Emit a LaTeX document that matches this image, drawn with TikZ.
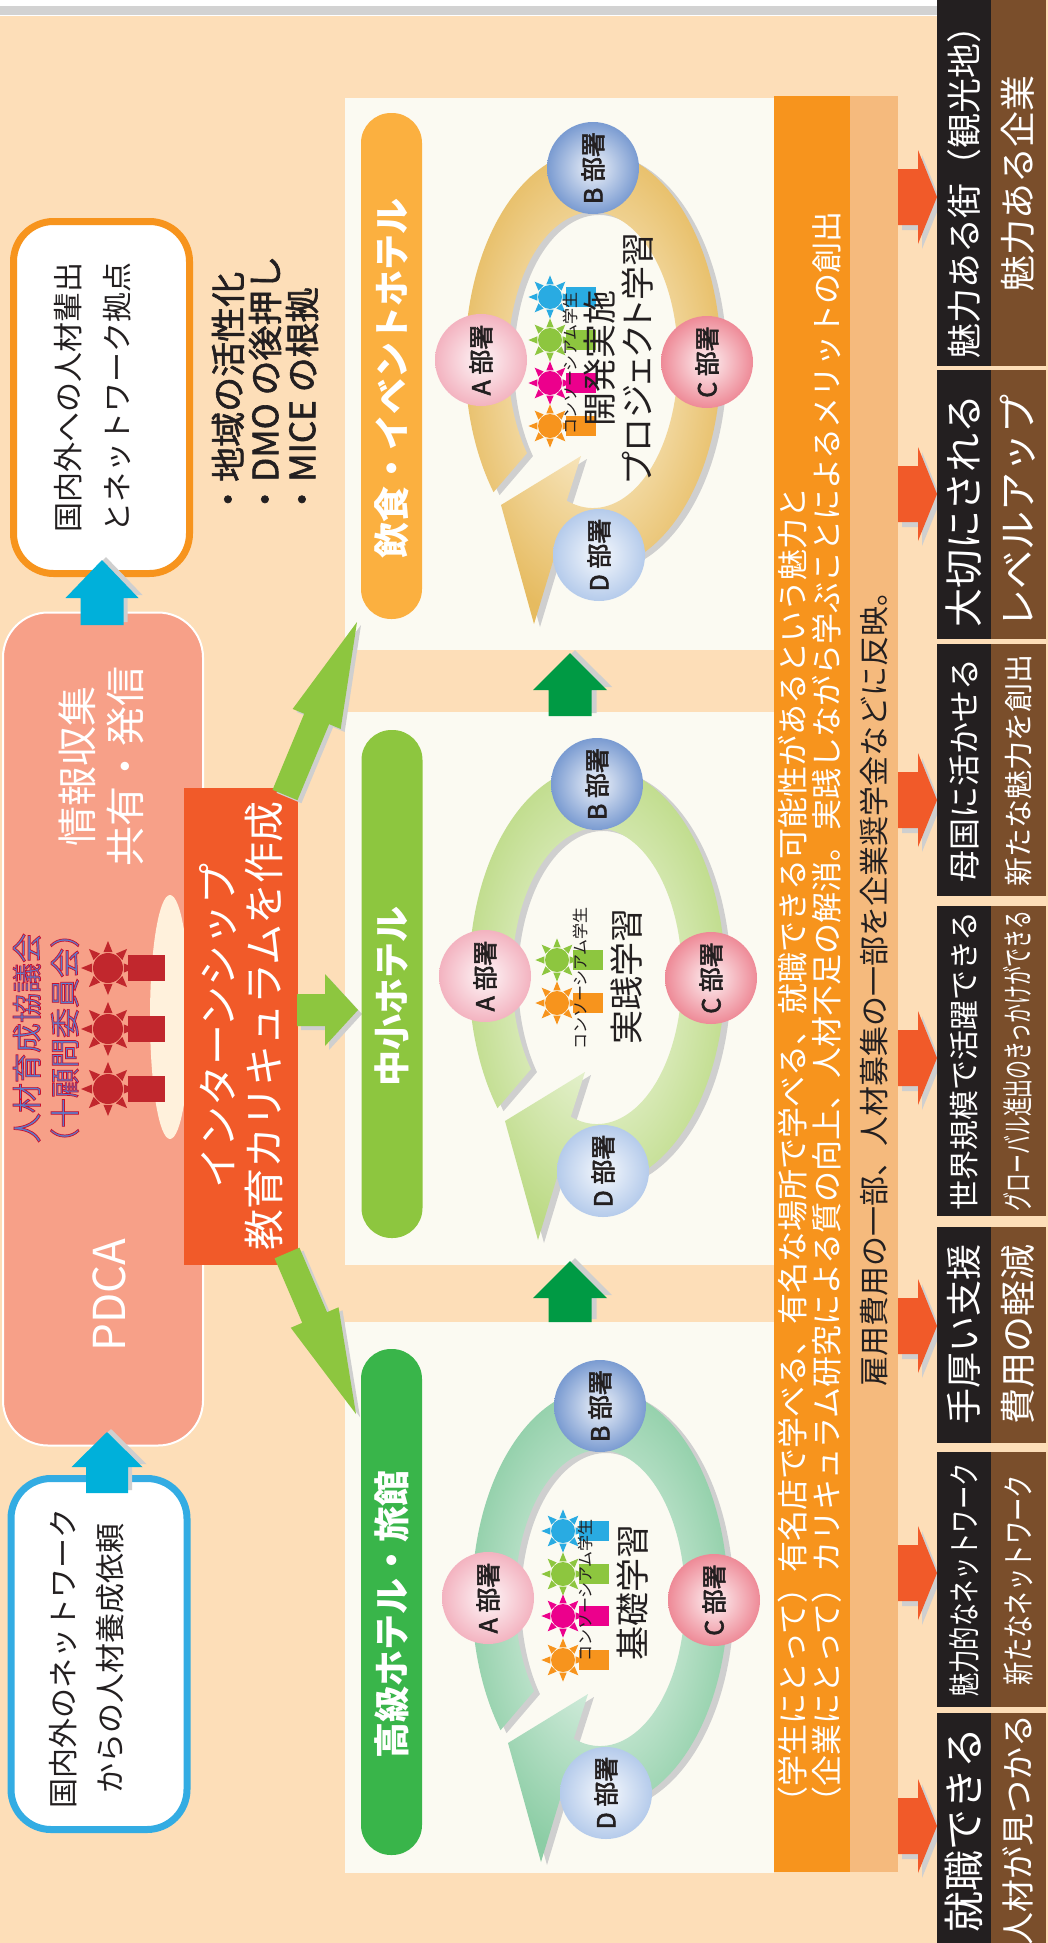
\documentclass[tikz,border=0pt]{standalone}
\usepackage{fontspec}
\setmainfont{Noto Sans CJK JP}
\newfontfamily\kana[RawFeature=+palt]{Noto Sans CJK JP}
\usepackage{graphicx}
\usetikzlibrary{calc}

\definecolor{bgpeach}{HTML}{FDDEB8}
\definecolor{topgray}{HTML}{D2D2D2}
\definecolor{panelcream}{HTML}{FBFAF2}
\definecolor{salmon}{HTML}{F7A088}
\definecolor{interred}{HTML}{F15A29}
\definecolor{outorange}{HTML}{F7941D}
\definecolor{inblue}{HTML}{33ACE3}
\definecolor{arrblue}{HTML}{00B0DA}
\definecolor{lightgreen}{HTML}{8DC63F}
\definecolor{darkgreen}{HTML}{009A44}
\definecolor{barorange}{HTML}{FBB040}
\definecolor{bargreen}{HTML}{39B54A}
\definecolor{colorange}{HTML}{F7941D}
\definecolor{collight}{HTML}{F5BA7D}
\definecolor{boxblack}{HTML}{231F20}
\definecolor{boxbrown}{HTML}{7A4E2B}
\definecolor{shadowgray}{HTML}{CFCFCF}
\definecolor{memberred}{HTML}{C1272D}
\definecolor{ovalcream}{HTML}{FFF1DC}
\definecolor{inktext}{HTML}{231F20}
\definecolor{council}{HTML}{5C7CCB}
\definecolor{arrred}{HTML}{F15A29}
\definecolor{studorange}{HTML}{F7941D}
\definecolor{studmagenta}{HTML}{EC008C}
\definecolor{studgreen}{HTML}{8DC63F}
\definecolor{studcyan}{HTML}{29ABE2}
\definecolor{ring1}{HTML}{E6BB60}
\definecolor{ring1l}{HTML}{FFF8E6}
\definecolor{ring2}{HTML}{BCDA85}
\definecolor{ring2l}{HTML}{F7FBEE}
\definecolor{ring3}{HTML}{8CCDA5}
\definecolor{ring3l}{HTML}{F0F9F3}
\definecolor{deptA}{HTML}{F3B3C0}
\definecolor{deptB}{HTML}{7A9BD1}
\definecolor{deptC}{HTML}{EE8A97}
\definecolor{deptD}{HTML}{B5CBEB}

\newcommand{\fsz}[1]{\fontsize{#1}{#1}\selectfont}
\newcommand{\outlined}[1]{\special{pdf:literal direct 2 Tr 0.7 w 0.78 0.06 0.18 RG}#1\special{pdf:literal direct 0 Tr}}
\newcommand{\heavy}[1]{\special{pdf:literal direct 2 Tr 0.6 w}#1\special{pdf:literal direct 0 Tr}}

% block arrow: fill, tail, tip, half shaft, half head, head length, shadow shift
\newcommand{\blockarrow}[7]{%
  \coordinate (ba-t) at #2;
  \coordinate (ba-h) at #3;
  \coordinate (ba-b) at ($(ba-h)!#6!(ba-t)$);
  \coordinate (ba-1) at ($(ba-t)!#4!90:(ba-h)$);
  \coordinate (ba-2) at ($(ba-b)!#4!-90:(ba-t)$);
  \coordinate (ba-3) at ($(ba-b)!#5!-90:(ba-t)$);
  \coordinate (ba-4) at ($(ba-b)!#5!90:(ba-t)$);
  \coordinate (ba-5) at ($(ba-b)!#4!90:(ba-t)$);
  \coordinate (ba-6) at ($(ba-t)!#4!-90:(ba-h)$);
  \fill[shadowgray] ([shift={#7}]ba-1) -- ([shift={#7}]ba-2) -- ([shift={#7}]ba-3) -- ([shift={#7}]ba-h)
    -- ([shift={#7}]ba-4) -- ([shift={#7}]ba-5) -- ([shift={#7}]ba-6) -- cycle;
  \fill[#1] (ba-1) -- (ba-2) -- (ba-3) -- (ba-h) -- (ba-4) -- (ba-5) -- (ba-6) -- cycle;
}

% person: colour, x, y, head radius
\newcommand{\person}[4]{%
  \begin{scope}[shift={(#2,-#3)}]
    \fill[#1] (0,0) circle (#4pt);
    \foreach \a in {0,45,...,315}
      \fill[#1] (\a:1.8*#4) -- (\a+16:1.1*#4) -- (\a-16:1.1*#4) -- cycle;
    \fill[#1] (1.3*#4,-0.85*#4) rectangle (3.8*#4,0.85*#4);
  \end{scope}}

\def\ringpath{(-141:128 and 210) arc[start angle=-141, end angle=-468, x radius=128, y radius=210]
  -- (-59,-264) -- (-92,-145) -- (-12,-96) -- (-468:85 and 148)
  arc[start angle=-468, end angle=-141, x radius=85, y radius=148] -- cycle}

\begin{document}
\begin{tikzpicture}[x=1pt,y=1pt]
  \tikzstyle{vtext}=[rotate=90, inner sep=0pt, align=center, text=inktext]
  \tikzstyle{wtext}=[vtext, text=white]
  \tikzstyle{dept}=[circle, minimum size=92pt, inner sep=0pt, rotate=90, text=inktext, font=\fsz{25}]
  \tikzstyle{hotelbar}=[rectangle, rounded corners=30pt, minimum height=61pt, inner sep=0pt, rotate=90]
  \tikzstyle{roundbox}=[rectangle, rounded corners=40pt, fill=white, line width=7pt, minimum height=176pt, rotate=90]

  \useasboundingbox (0,0) rectangle (1048,-1943);
  \fill[bgpeach] (0,0) rectangle (1048,-1943);
  \fill[white] (0,0) rectangle (937,-16);
  \fill[topgray] (0,-6) rectangle (937,-15);

  \foreach \ya/\yb in {98/650, 712/1265, 1322/1873}
    \fill[panelcream] (345,-\ya) rectangle (774,-\yb);
  \fill[colorange] (774,-96) rectangle (850,-1872);
  \fill[collight] (850,-96) rectangle (898,-1872);

  \node[draw=white, line width=2pt, fill=salmon, rounded corners=45pt, minimum width=833pt, minimum height=200pt, rotate=90] (pdca) at (103,-1029) {};
  \fill[ovalcream] (170,-1017) ellipse (20 and 122);
  \foreach \y in {968,1029,1089}
    {\person{memberred}{108}{\y}{15}}
  \node[wtext, font=\fontsize{40}{48}\selectfont] (info) at (101,-766) {情報収集\\共有・発信};
  \node[wtext, font=\fsz{44}] (cycle) at (109,-1295) {PDCA};
  \node[vtext, text=council, font=\fontsize{30}{38}\selectfont] (council) at (46,-1038) {\outlined{人材育成協議会}\\\outlined{（十顧問委員会）}};

  \node[roundbox, draw=outorange, minimum width=352pt] (out) at (101.5,-397.5) {};
  \node[vtext, font=\fontsize{30}{49}\selectfont] (out-t) at (92.5,-397) {国内外への人材輩出\\とネットワーク拠点};
  \node[vtext, align=left, anchor=west, font=\fontsize{35}{37}\selectfont] (aims) at (265,-517) {\heavy{・地域の活性化}\\\heavy{・DMO の後押し}\\\heavy{・MICE の根拠}};

  \node[roundbox, draw=inblue, minimum width=351pt] (req) at (99,-1654) {};
  \node[vtext, font=\fontsize{30}{47}\selectfont] (req-t) at (86.5,-1658) {国内外のネットワーク\\からの人材養成依頼};

  \node[fill=interred, minimum width=477pt, minimum height=114pt, rotate=90, inner sep=0pt, align=center, text=white, font=\fontsize{41}{46}\selectfont] (intern) at (241,-1026) {インターンシップ\\教育カリキュラムを作成};

  \blockarrow{arrblue}{(102,-625)}{(102,-560)}{21.5pt}{36.5pt}{38pt}{(4,3)}
  \blockarrow{arrblue}{(107,-1493)}{(107,-1432)}{21pt}{35.5pt}{35pt}{(4,3)}
  \blockarrow{lightgreen}{(285,-795)}{(357,-622)}{13.5pt}{26pt}{105pt}{(4,-3)}
  \blockarrow{lightgreen}{(297,-1010)}{(358,-1010)}{16pt}{36pt}{33pt}{(4,-4)}
  \blockarrow{lightgreen}{(287,-1253)}{(356,-1414)}{13.5pt}{26pt}{105pt}{(4,-3)}
  \blockarrow{darkgreen}{(570,-716)}{(570,-653)}{21.5pt}{37pt}{37pt}{(5,3)}
  \blockarrow{darkgreen}{(570,-1322)}{(570,-1261)}{21.5pt}{37pt}{37pt}{(5,3)}

  \foreach \p/\cx/\cy in {1/593/360, 2/597/976, 3/600/1598} {
    \begin{scope}[shift={(\cx,-\cy)}]
      \fill[shadowgray, shift={(6,-3)}] \ringpath;
      \shade[inner color=ring\p l, outer color=ring\p] \ringpath;
    \end{scope}
    \foreach \dep/\dx/\dy in {A/-112/0, B/0/-192, C/114/2, D/6/195}
      \node[dept, inner color=dept\dep!12!white, outer color=dept\dep] (p\p-\dep) at ({\cx+(\dx)},{-\cy-(\dy)}) {\heavy{\dep\ 部署}};
  }

  \foreach \col/\y in {studorange/426, studmagenta/383, studgreen/340, studcyan/297}
    {\person{\col}{550}{\y}{12}}
  \foreach \col/\y in {studgreen/960, studorange/1003}
    {\person{\col}{557}{\y}{12}}
  \foreach \col/\y in {studcyan/1531, studgreen/1574, studmagenta/1616, studorange/1660}
    {\person{\col}{563}{\y}{12}}
  \node[vtext, anchor=west, font=\fsz{16}] (p1-s) at (570,-435) {コンソーシアム学生};
  \node[vtext, anchor=west, font=\fsz{16}] (p2-s) at (580,-1050) {コンソーシアム学生};
  \node[vtext, anchor=west, font=\fsz{16}] (p3-s) at (585,-1662) {コンソーシアム学生};
  \node[vtext, font=\kana\fontsize{34}{38}\selectfont] (p1-t) at (619,-358) {開発実施\\プロジェクト学習};
  \node[vtext, font=\fsz{34}] (p2-t) at (627,-976) {実践学習};
  \node[vtext, font=\fsz{34}] (p3-t) at (633,-1592) {基礎学習};

  \node[hotelbar, fill=barorange, minimum width=506pt] (p1-bar) at (391.5,-366) {};
  \node[hotelbar, fill=lightgreen, minimum width=508pt] (p2-bar) at (392,-984) {};
  \node[hotelbar, fill=bargreen, minimum width=506pt] (p3-bar) at (391.5,-1602) {};
  \node[wtext, font=\bfseries\fsz{36}] (p1-l) at (392,-378) {飲食・イベントホテル};
  \node[wtext, font=\bfseries\fsz{36}] (p2-l) at (392,-996) {中小ホテル};
  \node[wtext, font=\bfseries\fsz{36}] (p3-l) at (392,-1614) {高級ホテル・旅館};

  \node[wtext, align=left, anchor=west, font=\fontsize{31}{34}\selectfont] (merit) at (810,-1818)
    {（学生にとって）有名店で学べる、有名な場所で学べる、就職できる可能性があるという魅力と\\（企業にとって）カリキュラム研究による質の向上、人材不足の解消。実践しながら学ぶことによるメリットの創出};
  \node[vtext, anchor=west, font=\fsz{30}] (fund) at (874,-1387) {雇用費用の一部、人材募集の一部を企業奨学金などに反映。};

  \foreach \y in {197,494,800,1058,1326,1573,1826}
    {\blockarrow{arrred}{(898,-\y)}{(937,-\y)}{28pt}{47pt}{19pt}{(4,-5)}}

  \foreach \ya/\yb/\yc/\ta/\tb in {
      0/366/183/{\fsz{35}魅力ある街（観光地）}/{\fsz{36}魅力ある企業},
      370/639/511/{\fsz{39}大切にされる}/{\fsz{39}レベルアップ},
      644/896/770/{\fsz{32}母国に活かせる}/{\fsz{29}新たな魅力を創出},
      906/1216/1061/{\fsz{30}世界規模で活躍できる}/{\fsz{31}\scalebox{0.61}[1]{グローバル進出のきっかけができる}},
      1227/1443/1334/{\fsz{36}手厚い支援}/{\fsz{36}費用の軽減},
      1452/1707/1580/{\fsz{32}\scalebox{0.73}[1]{魅力的なネットワーク}}/{\fsz{32}\scalebox{0.73}[1]{新たなネットワーク}},
      1713/1943/1830/{\fsz{41}就職できる}/{\fsz{33}人材が見つかる}} {
    \fill[boxblack] (937,-\ya) rectangle (991,-\yb);
    \fill[boxbrown] (991,-\ya) rectangle (1046,-\yb);
    \node[wtext] (res-\ya-a) at (964,-\yc) {\ta};
    \node[wtext] (res-\ya-b) at (1018,-\yc) {\tb};
  }
\end{tikzpicture}
\end{document}
